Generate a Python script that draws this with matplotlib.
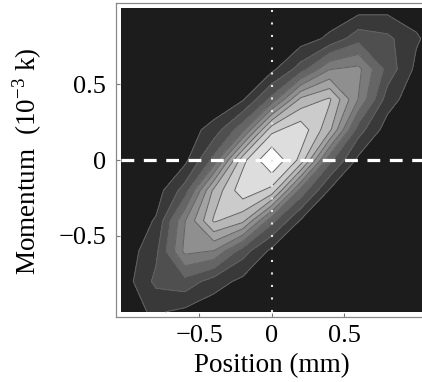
import matplotlib
matplotlib.use('Agg')
import numpy as np
import matplotlib.pyplot as plt

# Data: phase-space density
position = [-1.04, -0.8, -0.6, -0.4, -0.2, 0.0, 0.2, 0.4, 0.6, 0.8, 1.0, 1.2]   # mm
momentum = [-1.0, -0.8, -0.6, -0.4, -0.2, 0.0, 0.2, 0.4, 0.6, 0.8, 1.0]        # 10^-3 k

density = [
    [0.060, 0.102, 0.068, 0.025, 0.005, 0.001, 0.000, 0.000, 0.000, 0.000, 0.000, 0.000],  # -1.0
    [0.030, 0.205, 0.240, 0.136, 0.065, 0.008, 0.001, 0.000, 0.000, 0.000, 0.000, 0.000],  # -0.8
    [0.020, 0.160, 0.480, 0.450, 0.223, 0.066, 0.011, 0.001, 0.000, 0.000, 0.000, 0.000],  # -0.6
    [0.010, 0.100, 0.450, 0.740, 0.660, 0.301, 0.081, 0.012, 0.001, 0.000, 0.000, 0.000],  # -0.4
    [0.005, 0.045, 0.223, 0.660, 0.880, 0.790, 0.332, 0.081, 0.011, 0.001, 0.000, 0.000],  # -0.2
    [0.001, 0.008, 0.066, 0.301, 0.790, 1.000, 0.790, 0.301, 0.066, 0.008, 0.001, 0.000],  #  0.0
    [0.000, 0.001, 0.040, 0.130, 0.332, 0.790, 0.880, 0.660, 0.223, 0.045, 0.005, 0.000],  #  0.2
    [0.000, 0.000, 0.001, 0.012, 0.081, 0.301, 0.660, 0.740, 0.450, 0.136, 0.025, 0.002],  #  0.4
    [0.000, 0.000, 0.000, 0.001, 0.011, 0.066, 0.223, 0.450, 0.480, 0.240, 0.068, 0.011],  #  0.6
    [0.000, 0.000, 0.000, 0.000, 0.001, 0.008, 0.045, 0.110, 0.240, 0.205, 0.102, 0.028],  #  0.8
    [0.000, 0.000, 0.000, 0.000, 0.000, 0.001, 0.005, 0.025, 0.050, 0.060, 0.050, 0.030],  #  1.0
]

ticks = [-0.5, 0.0, 0.5]
tick_labels = ['\u22120.5', '0', '0.5']

# Contour levels and grey shades (dark -> light)
levels = [-0.01, 0.091, 0.182, 0.273, 0.364, 0.455, 0.545, 0.636, 0.727, 0.818, 0.909, 1.01]
shades = ['#1c1c1c', '#393939', '#4f4f4f', '#656565', '#7a7a7a', '#8f8f8f',
          '#a3a3a3', '#b7b7b7', '#cbcbcb', '#dddddd', '#fcfcfc']

plt.rcParams['font.family'] = ['Liberation Serif', 'DejaVu Serif']

fig = plt.figure(figsize=(4.22, 3.82), dpi=100)
ax = fig.add_axes([0.2749, 0.1709, 0.7976, 0.8220])

X, Y = np.meshgrid(position, momentum)
Z = np.array(density)

ax.contourf(X, Y, Z, levels=levels, colors=shades)
ax.contour(X, Y, Z, levels=levels[1:-1], colors='#626262', linewidths=0.7)

# guide lines through the origin
ax.hlines(0, position[0], position[-1], colors='white', linewidth=2.3,
          linestyles=(0, (4, 3)))
ax.vlines(0, momentum[0], momentum[-1], colors='#e4e4e4', linewidth=1.5,
          linestyles=(0, (1, 5)))

ax.set_xlim(-1.076, 1.25)
ax.set_ylim(-1.032, 1.037)
ax.set_facecolor('white')

ax.set_xticks(ticks)
ax.set_xticklabels(tick_labels)
ax.set_yticks(ticks)
ax.set_yticklabels(tick_labels)
ax.tick_params(direction='in', length=3, width=0.8, color='#777777',
               labelsize=19, pad=6)
ax.tick_params(axis='y', pad=7)

for side in ax.spines.values():
    side.set_color('#8a8a8a')
    side.set_linewidth(0.9)

fig.text(271.7 / 422, (382 - 371.7) / 382, 'Position (mm)', fontsize=19.5,
         ha='center', va='baseline')
fig.text(36 / 422, (382 - 161) / 382, 'Momentum  (10$^{\\mathregular{-3}}$ k)',
         fontsize=19.5, rotation=90, rotation_mode='anchor',
         ha='center', va='baseline')

fig.savefig('out.png', dpi=100)
